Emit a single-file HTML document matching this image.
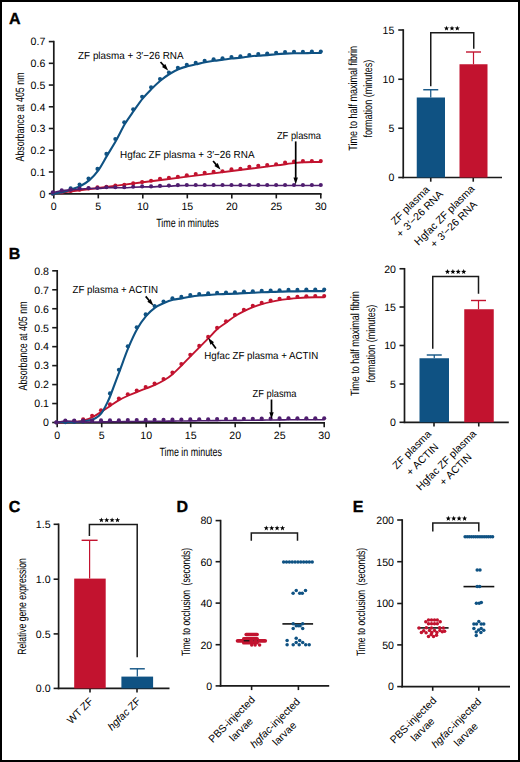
<!DOCTYPE html>
<html><head><meta charset="utf-8"><style>
html,body{margin:0;padding:0;background:#fff;overflow:hidden;width:520px;height:762px;}
svg{display:block;}
</style></head><body>
<svg width="520" height="762" viewBox="0 0 520 762" text-rendering="geometricPrecision" font-family='"Liberation Sans", sans-serif'>
<rect x="0" y="0" width="520" height="762" fill="#fff"/>
<rect x="1" y="1" width="518" height="760" fill="none" stroke="#000" stroke-width="2"/>
<text x="8.9" y="23.9" font-size="16" text-anchor="start" font-weight="bold" fill="#000" stroke="#000" stroke-width="0.35">A</text>
<text x="8.7" y="259.0" font-size="16" text-anchor="start" font-weight="bold" fill="#000" stroke="#000" stroke-width="0.35">B</text>
<text x="8.8" y="511.7" font-size="16" text-anchor="start" font-weight="bold" fill="#000" stroke="#000" stroke-width="0.35">C</text>
<text x="176.6" y="511.6" font-size="16" text-anchor="start" font-weight="bold" fill="#000" stroke="#000" stroke-width="0.35">D</text>
<text x="352.7" y="512.2" font-size="16" text-anchor="start" font-weight="bold" fill="#000" stroke="#000" stroke-width="0.35">E</text>
<line x1="53.8" y1="40.800000000000004" x2="53.8" y2="194.70000000000002" stroke="#1a1a1a" stroke-width="1.7" stroke-linecap="butt"/>
<line x1="53.0" y1="193.9" x2="321.6" y2="193.9" stroke="#1a1a1a" stroke-width="1.7" stroke-linecap="butt"/>
<line x1="48.8" y1="193.7" x2="53.8" y2="193.7" stroke="#1a1a1a" stroke-width="1.6" stroke-linecap="butt"/>
<text x="45.3" y="197.5" font-size="10.6" text-anchor="end" font-weight="normal" fill="#000" textLength="5.9" lengthAdjust="spacingAndGlyphs">0</text>
<line x1="48.8" y1="171.96999999999997" x2="53.8" y2="171.96999999999997" stroke="#1a1a1a" stroke-width="1.6" stroke-linecap="butt"/>
<text x="45.3" y="175.76999999999998" font-size="10.6" text-anchor="end" font-weight="normal" fill="#000" textLength="14.74" lengthAdjust="spacingAndGlyphs">0.1</text>
<line x1="48.8" y1="150.23999999999998" x2="53.8" y2="150.23999999999998" stroke="#1a1a1a" stroke-width="1.6" stroke-linecap="butt"/>
<text x="45.3" y="154.04" font-size="10.6" text-anchor="end" font-weight="normal" fill="#000" textLength="14.74" lengthAdjust="spacingAndGlyphs">0.2</text>
<line x1="48.8" y1="128.51" x2="53.8" y2="128.51" stroke="#1a1a1a" stroke-width="1.6" stroke-linecap="butt"/>
<text x="45.3" y="132.31" font-size="10.6" text-anchor="end" font-weight="normal" fill="#000" textLength="14.74" lengthAdjust="spacingAndGlyphs">0.3</text>
<line x1="48.8" y1="106.77999999999997" x2="53.8" y2="106.77999999999997" stroke="#1a1a1a" stroke-width="1.6" stroke-linecap="butt"/>
<text x="45.3" y="110.57999999999997" font-size="10.6" text-anchor="end" font-weight="normal" fill="#000" textLength="14.74" lengthAdjust="spacingAndGlyphs">0.4</text>
<line x1="48.8" y1="85.04999999999998" x2="53.8" y2="85.04999999999998" stroke="#1a1a1a" stroke-width="1.6" stroke-linecap="butt"/>
<text x="45.3" y="88.84999999999998" font-size="10.6" text-anchor="end" font-weight="normal" fill="#000" textLength="14.74" lengthAdjust="spacingAndGlyphs">0.5</text>
<line x1="48.8" y1="63.31999999999999" x2="53.8" y2="63.31999999999999" stroke="#1a1a1a" stroke-width="1.6" stroke-linecap="butt"/>
<text x="45.3" y="67.11999999999999" font-size="10.6" text-anchor="end" font-weight="normal" fill="#000" textLength="14.74" lengthAdjust="spacingAndGlyphs">0.6</text>
<line x1="48.8" y1="41.59" x2="53.8" y2="41.59" stroke="#1a1a1a" stroke-width="1.6" stroke-linecap="butt"/>
<text x="45.3" y="45.39" font-size="10.6" text-anchor="end" font-weight="normal" fill="#000" textLength="14.74" lengthAdjust="spacingAndGlyphs">0.7</text>
<line x1="53.8" y1="193.9" x2="53.8" y2="198.4" stroke="#1a1a1a" stroke-width="1.6" stroke-linecap="butt"/>
<text x="53.8" y="209.9" font-size="10.6" text-anchor="middle" font-weight="normal" fill="#000" textLength="5.9" lengthAdjust="spacingAndGlyphs">0</text>
<line x1="98.3" y1="193.9" x2="98.3" y2="198.4" stroke="#1a1a1a" stroke-width="1.6" stroke-linecap="butt"/>
<text x="98.3" y="209.9" font-size="10.6" text-anchor="middle" font-weight="normal" fill="#000" textLength="5.9" lengthAdjust="spacingAndGlyphs">5</text>
<line x1="142.8" y1="193.9" x2="142.8" y2="198.4" stroke="#1a1a1a" stroke-width="1.6" stroke-linecap="butt"/>
<text x="142.8" y="209.9" font-size="10.6" text-anchor="middle" font-weight="normal" fill="#000" textLength="11.79" lengthAdjust="spacingAndGlyphs">10</text>
<line x1="187.3" y1="193.9" x2="187.3" y2="198.4" stroke="#1a1a1a" stroke-width="1.6" stroke-linecap="butt"/>
<text x="187.3" y="209.9" font-size="10.6" text-anchor="middle" font-weight="normal" fill="#000" textLength="11.79" lengthAdjust="spacingAndGlyphs">15</text>
<line x1="231.8" y1="193.9" x2="231.8" y2="198.4" stroke="#1a1a1a" stroke-width="1.6" stroke-linecap="butt"/>
<text x="231.8" y="209.9" font-size="10.6" text-anchor="middle" font-weight="normal" fill="#000" textLength="11.79" lengthAdjust="spacingAndGlyphs">20</text>
<line x1="276.3" y1="193.9" x2="276.3" y2="198.4" stroke="#1a1a1a" stroke-width="1.6" stroke-linecap="butt"/>
<text x="276.3" y="209.9" font-size="10.6" text-anchor="middle" font-weight="normal" fill="#000" textLength="11.79" lengthAdjust="spacingAndGlyphs">25</text>
<line x1="320.8" y1="193.9" x2="320.8" y2="198.4" stroke="#1a1a1a" stroke-width="1.6" stroke-linecap="butt"/>
<text x="320.8" y="209.9" font-size="10.6" text-anchor="middle" font-weight="normal" fill="#000" textLength="11.79" lengthAdjust="spacingAndGlyphs">30</text>
<text x="0" y="0" transform="translate(23.6,117) rotate(-90)" font-size="12.0" text-anchor="middle" font-weight="normal" fill="#000" textLength="89" lengthAdjust="spacingAndGlyphs">Absorbance at 405 nm</text>
<text x="187.5" y="226.6" font-size="12.0" text-anchor="middle" font-weight="normal" fill="#000" textLength="62.6" lengthAdjust="spacingAndGlyphs">Time in minutes</text>
<path d="M53.80,193.60 C61.22,192.66 83.47,189.83 98.30,187.95 C113.13,186.07 127.97,184.18 142.80,182.30 C157.63,180.42 172.47,178.53 187.30,176.65 C202.13,174.77 216.97,172.88 231.80,171.00 C246.63,169.12 265.62,166.70 276.30,165.35 C286.98,164.00 290.99,163.42 295.88,162.90 C300.77,162.38 302.70,162.39 305.67,162.25 C308.64,162.11 311.16,162.09 313.68,162.05 C316.20,162.01 319.61,162.01 320.80,162.00" fill="none" stroke="#c2132f" stroke-width="1.9" stroke-linecap="round"/>
<circle cx="52.80" cy="193.70" r="2.05" fill="#c2132f"/>
<circle cx="61.73" cy="192.40" r="2.05" fill="#c2132f"/>
<circle cx="70.67" cy="191.00" r="2.05" fill="#c2132f"/>
<circle cx="79.60" cy="189.70" r="2.05" fill="#c2132f"/>
<circle cx="88.53" cy="188.50" r="2.05" fill="#c2132f"/>
<circle cx="97.47" cy="187.20" r="2.05" fill="#c2132f"/>
<circle cx="106.40" cy="186.70" r="2.05" fill="#c2132f"/>
<circle cx="115.33" cy="185.60" r="2.05" fill="#c2132f"/>
<circle cx="124.27" cy="184.80" r="2.05" fill="#c2132f"/>
<circle cx="133.20" cy="183.40" r="2.05" fill="#c2132f"/>
<circle cx="142.13" cy="182.10" r="2.05" fill="#c2132f"/>
<circle cx="151.07" cy="180.70" r="2.05" fill="#c2132f"/>
<circle cx="160.00" cy="178.80" r="2.05" fill="#c2132f"/>
<circle cx="168.93" cy="177.80" r="2.05" fill="#c2132f"/>
<circle cx="177.87" cy="176.70" r="2.05" fill="#c2132f"/>
<circle cx="186.80" cy="175.20" r="2.05" fill="#c2132f"/>
<circle cx="195.73" cy="174.00" r="2.05" fill="#c2132f"/>
<circle cx="204.67" cy="172.70" r="2.05" fill="#c2132f"/>
<circle cx="213.60" cy="171.90" r="2.05" fill="#c2132f"/>
<circle cx="222.53" cy="171.30" r="2.05" fill="#c2132f"/>
<circle cx="231.47" cy="169.40" r="2.05" fill="#c2132f"/>
<circle cx="240.40" cy="168.70" r="2.05" fill="#c2132f"/>
<circle cx="249.33" cy="166.70" r="2.05" fill="#c2132f"/>
<circle cx="258.27" cy="165.70" r="2.05" fill="#c2132f"/>
<circle cx="267.20" cy="165.10" r="2.05" fill="#c2132f"/>
<circle cx="276.13" cy="164.20" r="2.05" fill="#c2132f"/>
<circle cx="285.07" cy="162.60" r="2.05" fill="#c2132f"/>
<circle cx="294.00" cy="161.50" r="2.05" fill="#c2132f"/>
<circle cx="302.93" cy="161.10" r="2.05" fill="#c2132f"/>
<circle cx="311.87" cy="161.10" r="2.05" fill="#c2132f"/>
<circle cx="320.80" cy="161.10" r="2.05" fill="#c2132f"/>
<path d="M53.80,193.60 C55.28,193.35 59.73,192.82 62.70,192.10 C65.67,191.38 68.63,190.32 71.60,189.30 C74.57,188.28 77.53,187.53 80.50,186.00 C83.47,184.47 86.43,182.70 89.40,180.10 C92.37,177.50 95.33,174.52 98.30,170.40 C101.27,166.28 104.23,160.38 107.20,155.40 C110.17,150.42 113.13,145.77 116.10,140.50 C119.07,135.23 122.03,128.77 125.00,123.80 C127.97,118.83 130.93,114.95 133.90,110.70 C136.87,106.45 139.83,101.95 142.80,98.30 C145.77,94.65 148.73,91.77 151.70,88.80 C154.67,85.83 157.63,82.97 160.60,80.50 C163.57,78.03 166.53,75.88 169.50,74.00 C172.47,72.12 175.43,70.48 178.40,69.20 C181.37,67.92 184.33,67.12 187.30,66.30 C190.27,65.48 193.23,64.97 196.20,64.30 C199.17,63.63 202.13,62.88 205.10,62.30 C208.07,61.72 211.03,61.23 214.00,60.80 C216.97,60.37 219.93,60.08 222.90,59.70 C225.87,59.32 228.83,58.83 231.80,58.50 C234.77,58.17 237.73,58.03 240.70,57.70 C243.67,57.37 246.63,56.85 249.60,56.50 C252.57,56.15 255.53,55.83 258.50,55.60 C261.47,55.37 264.43,55.33 267.40,55.10 C270.37,54.87 273.33,54.45 276.30,54.20 C279.27,53.95 282.23,53.75 285.20,53.60 C288.17,53.45 291.13,53.35 294.10,53.30 C297.07,53.25 300.03,53.35 303.00,53.30 C305.97,53.25 308.93,53.05 311.90,53.00 C314.87,52.95 319.32,53.00 320.80,53.00" fill="none" stroke="#0f5283" stroke-width="2.1" stroke-linecap="round"/>
<circle cx="52.80" cy="193.70" r="2.05" fill="#0f5283"/>
<circle cx="61.73" cy="191.60" r="2.05" fill="#0f5283"/>
<circle cx="70.67" cy="188.30" r="2.05" fill="#0f5283"/>
<circle cx="79.60" cy="184.50" r="2.05" fill="#0f5283"/>
<circle cx="88.53" cy="178.60" r="2.05" fill="#0f5283"/>
<circle cx="97.47" cy="168.90" r="2.05" fill="#0f5283"/>
<circle cx="106.40" cy="153.90" r="2.05" fill="#0f5283"/>
<circle cx="115.33" cy="139.00" r="2.05" fill="#0f5283"/>
<circle cx="124.27" cy="122.30" r="2.05" fill="#0f5283"/>
<circle cx="133.20" cy="109.20" r="2.05" fill="#0f5283"/>
<circle cx="142.13" cy="96.80" r="2.05" fill="#0f5283"/>
<circle cx="151.07" cy="87.30" r="2.05" fill="#0f5283"/>
<circle cx="160.00" cy="79.00" r="2.05" fill="#0f5283"/>
<circle cx="168.93" cy="72.50" r="2.05" fill="#0f5283"/>
<circle cx="177.87" cy="67.70" r="2.05" fill="#0f5283"/>
<circle cx="186.80" cy="64.80" r="2.05" fill="#0f5283"/>
<circle cx="195.73" cy="62.80" r="2.05" fill="#0f5283"/>
<circle cx="204.67" cy="60.80" r="2.05" fill="#0f5283"/>
<circle cx="213.60" cy="59.30" r="2.05" fill="#0f5283"/>
<circle cx="222.53" cy="58.20" r="2.05" fill="#0f5283"/>
<circle cx="231.47" cy="57.00" r="2.05" fill="#0f5283"/>
<circle cx="240.40" cy="56.20" r="2.05" fill="#0f5283"/>
<circle cx="249.33" cy="55.00" r="2.05" fill="#0f5283"/>
<circle cx="258.27" cy="54.10" r="2.05" fill="#0f5283"/>
<circle cx="267.20" cy="53.60" r="2.05" fill="#0f5283"/>
<circle cx="276.13" cy="52.70" r="2.05" fill="#0f5283"/>
<circle cx="285.07" cy="52.10" r="2.05" fill="#0f5283"/>
<circle cx="294.00" cy="51.80" r="2.05" fill="#0f5283"/>
<circle cx="302.93" cy="51.80" r="2.05" fill="#0f5283"/>
<circle cx="311.87" cy="51.50" r="2.05" fill="#0f5283"/>
<circle cx="320.80" cy="51.50" r="2.05" fill="#0f5283"/>
<path d="M53.80,192.30 C55.28,192.01 59.73,190.96 62.70,190.57 C65.67,190.17 68.63,190.19 71.60,189.93 C74.57,189.67 77.53,189.24 80.50,189.00 C83.47,188.76 86.43,188.58 89.40,188.50 C92.37,188.42 95.33,188.63 98.30,188.50 C101.27,188.37 104.23,187.83 107.20,187.70 C110.17,187.57 113.13,187.70 116.10,187.70 C119.07,187.70 122.03,187.78 125.00,187.70 C127.97,187.62 130.93,187.33 133.90,187.20 C136.87,187.07 139.83,186.95 142.80,186.90 C145.77,186.85 148.73,186.98 151.70,186.90 C154.67,186.82 157.63,186.53 160.60,186.40 C163.57,186.27 166.53,186.23 169.50,186.10 C172.47,185.97 175.43,185.70 178.40,185.60 C181.37,185.50 184.33,185.52 187.30,185.50 C190.27,185.48 193.23,185.50 196.20,185.50 C199.17,185.50 202.13,185.50 205.10,185.50 C208.07,185.50 211.03,185.50 214.00,185.50 C216.97,185.50 219.93,185.50 222.90,185.50 C225.87,185.50 228.83,185.50 231.80,185.50 C234.77,185.50 237.73,185.50 240.70,185.50 C243.67,185.50 246.63,185.50 249.60,185.50 C252.57,185.50 255.53,185.50 258.50,185.50 C261.47,185.50 264.43,185.50 267.40,185.50 C270.37,185.50 273.33,185.50 276.30,185.50 C279.27,185.50 282.23,185.50 285.20,185.50 C288.17,185.50 291.13,185.50 294.10,185.50 C297.07,185.50 300.03,185.50 303.00,185.50 C305.97,185.50 308.93,185.50 311.90,185.50 C314.87,185.50 319.32,185.50 320.80,185.50" fill="none" stroke="#4f1d6f" stroke-width="1.6" stroke-linecap="round"/>
<circle cx="52.80" cy="192.30" r="2.05" fill="#4f1d6f"/>
<circle cx="61.73" cy="190.40" r="2.05" fill="#4f1d6f"/>
<circle cx="70.67" cy="189.60" r="2.05" fill="#4f1d6f"/>
<circle cx="79.60" cy="188.50" r="2.05" fill="#4f1d6f"/>
<circle cx="88.53" cy="188.00" r="2.05" fill="#4f1d6f"/>
<circle cx="97.47" cy="188.00" r="2.05" fill="#4f1d6f"/>
<circle cx="106.40" cy="187.20" r="2.05" fill="#4f1d6f"/>
<circle cx="115.33" cy="187.20" r="2.05" fill="#4f1d6f"/>
<circle cx="124.27" cy="187.20" r="2.05" fill="#4f1d6f"/>
<circle cx="133.20" cy="186.70" r="2.05" fill="#4f1d6f"/>
<circle cx="142.13" cy="186.40" r="2.05" fill="#4f1d6f"/>
<circle cx="151.07" cy="186.40" r="2.05" fill="#4f1d6f"/>
<circle cx="160.00" cy="185.90" r="2.05" fill="#4f1d6f"/>
<circle cx="168.93" cy="185.60" r="2.05" fill="#4f1d6f"/>
<circle cx="177.87" cy="185.10" r="2.05" fill="#4f1d6f"/>
<circle cx="186.80" cy="185.00" r="2.05" fill="#4f1d6f"/>
<circle cx="195.73" cy="185.00" r="2.05" fill="#4f1d6f"/>
<circle cx="204.67" cy="185.00" r="2.05" fill="#4f1d6f"/>
<circle cx="213.60" cy="185.00" r="2.05" fill="#4f1d6f"/>
<circle cx="222.53" cy="185.00" r="2.05" fill="#4f1d6f"/>
<circle cx="231.47" cy="185.00" r="2.05" fill="#4f1d6f"/>
<circle cx="240.40" cy="185.00" r="2.05" fill="#4f1d6f"/>
<circle cx="249.33" cy="185.00" r="2.05" fill="#4f1d6f"/>
<circle cx="258.27" cy="185.00" r="2.05" fill="#4f1d6f"/>
<circle cx="267.20" cy="185.00" r="2.05" fill="#4f1d6f"/>
<circle cx="276.13" cy="185.00" r="2.05" fill="#4f1d6f"/>
<circle cx="285.07" cy="185.00" r="2.05" fill="#4f1d6f"/>
<circle cx="294.00" cy="185.00" r="2.05" fill="#4f1d6f"/>
<circle cx="302.93" cy="185.00" r="2.05" fill="#4f1d6f"/>
<circle cx="311.87" cy="185.00" r="2.05" fill="#4f1d6f"/>
<circle cx="320.80" cy="185.00" r="2.05" fill="#4f1d6f"/>
<line x1="57.2" y1="270.0" x2="57.2" y2="423.6" stroke="#1a1a1a" stroke-width="1.7" stroke-linecap="butt"/>
<line x1="56.400000000000006" y1="422.8" x2="325.0" y2="422.8" stroke="#1a1a1a" stroke-width="1.7" stroke-linecap="butt"/>
<line x1="52.2" y1="422.5" x2="57.2" y2="422.5" stroke="#1a1a1a" stroke-width="1.6" stroke-linecap="butt"/>
<text x="49.0" y="426.3" font-size="10.6" text-anchor="end" font-weight="normal" fill="#000" textLength="5.9" lengthAdjust="spacingAndGlyphs">0</text>
<line x1="52.2" y1="403.54" x2="57.2" y2="403.54" stroke="#1a1a1a" stroke-width="1.6" stroke-linecap="butt"/>
<text x="49.0" y="407.34000000000003" font-size="10.6" text-anchor="end" font-weight="normal" fill="#000" textLength="14.74" lengthAdjust="spacingAndGlyphs">0.1</text>
<line x1="52.2" y1="384.58" x2="57.2" y2="384.58" stroke="#1a1a1a" stroke-width="1.6" stroke-linecap="butt"/>
<text x="49.0" y="388.38" font-size="10.6" text-anchor="end" font-weight="normal" fill="#000" textLength="14.74" lengthAdjust="spacingAndGlyphs">0.2</text>
<line x1="52.2" y1="365.62" x2="57.2" y2="365.62" stroke="#1a1a1a" stroke-width="1.6" stroke-linecap="butt"/>
<text x="49.0" y="369.42" font-size="10.6" text-anchor="end" font-weight="normal" fill="#000" textLength="14.74" lengthAdjust="spacingAndGlyphs">0.3</text>
<line x1="52.2" y1="346.65999999999997" x2="57.2" y2="346.65999999999997" stroke="#1a1a1a" stroke-width="1.6" stroke-linecap="butt"/>
<text x="49.0" y="350.46" font-size="10.6" text-anchor="end" font-weight="normal" fill="#000" textLength="14.74" lengthAdjust="spacingAndGlyphs">0.4</text>
<line x1="52.2" y1="327.7" x2="57.2" y2="327.7" stroke="#1a1a1a" stroke-width="1.6" stroke-linecap="butt"/>
<text x="49.0" y="331.5" font-size="10.6" text-anchor="end" font-weight="normal" fill="#000" textLength="14.74" lengthAdjust="spacingAndGlyphs">0.5</text>
<line x1="52.2" y1="308.74" x2="57.2" y2="308.74" stroke="#1a1a1a" stroke-width="1.6" stroke-linecap="butt"/>
<text x="49.0" y="312.54" font-size="10.6" text-anchor="end" font-weight="normal" fill="#000" textLength="14.74" lengthAdjust="spacingAndGlyphs">0.6</text>
<line x1="52.2" y1="289.78" x2="57.2" y2="289.78" stroke="#1a1a1a" stroke-width="1.6" stroke-linecap="butt"/>
<text x="49.0" y="293.58" font-size="10.6" text-anchor="end" font-weight="normal" fill="#000" textLength="14.74" lengthAdjust="spacingAndGlyphs">0.7</text>
<line x1="52.2" y1="270.82" x2="57.2" y2="270.82" stroke="#1a1a1a" stroke-width="1.6" stroke-linecap="butt"/>
<text x="49.0" y="274.62" font-size="10.6" text-anchor="end" font-weight="normal" fill="#000" textLength="14.74" lengthAdjust="spacingAndGlyphs">0.8</text>
<line x1="57.2" y1="422.8" x2="57.2" y2="427.3" stroke="#1a1a1a" stroke-width="1.6" stroke-linecap="butt"/>
<text x="57.2" y="439.2" font-size="10.6" text-anchor="middle" font-weight="normal" fill="#000" textLength="5.9" lengthAdjust="spacingAndGlyphs">0</text>
<line x1="101.7" y1="422.8" x2="101.7" y2="427.3" stroke="#1a1a1a" stroke-width="1.6" stroke-linecap="butt"/>
<text x="101.7" y="439.2" font-size="10.6" text-anchor="middle" font-weight="normal" fill="#000" textLength="5.9" lengthAdjust="spacingAndGlyphs">5</text>
<line x1="146.2" y1="422.8" x2="146.2" y2="427.3" stroke="#1a1a1a" stroke-width="1.6" stroke-linecap="butt"/>
<text x="146.2" y="439.2" font-size="10.6" text-anchor="middle" font-weight="normal" fill="#000" textLength="11.79" lengthAdjust="spacingAndGlyphs">10</text>
<line x1="190.7" y1="422.8" x2="190.7" y2="427.3" stroke="#1a1a1a" stroke-width="1.6" stroke-linecap="butt"/>
<text x="190.7" y="439.2" font-size="10.6" text-anchor="middle" font-weight="normal" fill="#000" textLength="11.79" lengthAdjust="spacingAndGlyphs">15</text>
<line x1="235.2" y1="422.8" x2="235.2" y2="427.3" stroke="#1a1a1a" stroke-width="1.6" stroke-linecap="butt"/>
<text x="235.2" y="439.2" font-size="10.6" text-anchor="middle" font-weight="normal" fill="#000" textLength="11.79" lengthAdjust="spacingAndGlyphs">20</text>
<line x1="279.7" y1="422.8" x2="279.7" y2="427.3" stroke="#1a1a1a" stroke-width="1.6" stroke-linecap="butt"/>
<text x="279.7" y="439.2" font-size="10.6" text-anchor="middle" font-weight="normal" fill="#000" textLength="11.79" lengthAdjust="spacingAndGlyphs">25</text>
<line x1="324.2" y1="422.8" x2="324.2" y2="427.3" stroke="#1a1a1a" stroke-width="1.6" stroke-linecap="butt"/>
<text x="324.2" y="439.2" font-size="10.6" text-anchor="middle" font-weight="normal" fill="#000" textLength="11.79" lengthAdjust="spacingAndGlyphs">30</text>
<text x="0" y="0" transform="translate(27.0,346) rotate(-90)" font-size="12.0" text-anchor="middle" font-weight="normal" fill="#000" textLength="89" lengthAdjust="spacingAndGlyphs">Absorbance at 405 nm</text>
<text x="190.7" y="456.2" font-size="12.0" text-anchor="middle" font-weight="normal" fill="#000" textLength="62.6" lengthAdjust="spacingAndGlyphs">Time in minutes</text>
<path d="M57.20,422.50 C58.68,422.49 63.13,422.54 66.10,422.43 C69.07,422.33 72.03,422.19 75.00,421.87 C77.97,421.54 80.93,421.31 83.90,420.50 C86.87,419.69 89.83,418.48 92.80,417.00 C95.77,415.52 98.73,413.48 101.70,411.60 C104.67,409.72 107.63,407.65 110.60,405.70 C113.57,403.75 116.53,401.60 119.50,399.90 C122.47,398.20 125.43,396.83 128.40,395.50 C131.37,394.17 134.33,393.08 137.30,391.90 C140.27,390.72 143.23,389.57 146.20,388.40 C149.17,387.23 152.13,386.25 155.10,384.90 C158.07,383.55 161.03,382.13 164.00,380.30 C166.97,378.47 169.93,376.40 172.90,373.90 C175.87,371.40 178.83,368.27 181.80,365.30 C184.77,362.33 187.73,359.12 190.70,356.10 C193.67,353.08 196.63,350.18 199.60,347.20 C202.57,344.22 205.53,341.23 208.50,338.20 C211.47,335.17 214.43,331.60 217.40,329.00 C220.37,326.40 223.33,324.77 226.30,322.60 C229.27,320.43 232.23,317.92 235.20,316.00 C238.17,314.08 241.13,312.58 244.10,311.10 C247.07,309.62 250.03,308.25 253.00,307.10 C255.97,305.95 258.93,305.07 261.90,304.20 C264.87,303.33 267.83,302.58 270.80,301.90 C273.77,301.22 276.73,300.58 279.70,300.10 C282.67,299.62 285.63,299.33 288.60,299.00 C291.57,298.67 294.53,298.35 297.50,298.10 C300.47,297.85 303.43,297.63 306.40,297.50 C309.37,297.37 312.33,297.33 315.30,297.30 C318.27,297.27 322.72,297.30 324.20,297.30" fill="none" stroke="#c2132f" stroke-width="1.9" stroke-linecap="round"/>
<circle cx="56.40" cy="422.50" r="2.05" fill="#c2132f"/>
<circle cx="65.33" cy="422.00" r="2.05" fill="#c2132f"/>
<circle cx="74.25" cy="421.00" r="2.05" fill="#c2132f"/>
<circle cx="83.18" cy="419.20" r="2.05" fill="#c2132f"/>
<circle cx="92.11" cy="415.70" r="2.05" fill="#c2132f"/>
<circle cx="101.03" cy="410.30" r="2.05" fill="#c2132f"/>
<circle cx="109.96" cy="404.40" r="2.05" fill="#c2132f"/>
<circle cx="118.89" cy="398.60" r="2.05" fill="#c2132f"/>
<circle cx="127.81" cy="394.20" r="2.05" fill="#c2132f"/>
<circle cx="136.74" cy="390.60" r="2.05" fill="#c2132f"/>
<circle cx="145.67" cy="387.10" r="2.05" fill="#c2132f"/>
<circle cx="154.59" cy="383.60" r="2.05" fill="#c2132f"/>
<circle cx="163.52" cy="379.00" r="2.05" fill="#c2132f"/>
<circle cx="172.45" cy="372.60" r="2.05" fill="#c2132f"/>
<circle cx="181.37" cy="364.00" r="2.05" fill="#c2132f"/>
<circle cx="190.30" cy="354.80" r="2.05" fill="#c2132f"/>
<circle cx="199.23" cy="345.90" r="2.05" fill="#c2132f"/>
<circle cx="208.15" cy="336.90" r="2.05" fill="#c2132f"/>
<circle cx="217.08" cy="327.70" r="2.05" fill="#c2132f"/>
<circle cx="226.01" cy="321.30" r="2.05" fill="#c2132f"/>
<circle cx="234.93" cy="314.70" r="2.05" fill="#c2132f"/>
<circle cx="243.86" cy="309.80" r="2.05" fill="#c2132f"/>
<circle cx="252.79" cy="305.80" r="2.05" fill="#c2132f"/>
<circle cx="261.71" cy="302.90" r="2.05" fill="#c2132f"/>
<circle cx="270.64" cy="300.60" r="2.05" fill="#c2132f"/>
<circle cx="279.57" cy="298.80" r="2.05" fill="#c2132f"/>
<circle cx="288.49" cy="297.70" r="2.05" fill="#c2132f"/>
<circle cx="297.42" cy="296.80" r="2.05" fill="#c2132f"/>
<circle cx="306.35" cy="296.20" r="2.05" fill="#c2132f"/>
<circle cx="315.27" cy="296.00" r="2.05" fill="#c2132f"/>
<circle cx="324.20" cy="296.00" r="2.05" fill="#c2132f"/>
<path d="M57.20,422.30 C58.68,422.28 63.13,422.25 66.10,422.20 C69.07,422.15 71.91,422.15 75.00,422.00 C78.09,421.85 81.56,421.77 84.61,421.30 C87.67,420.83 90.93,420.12 93.33,419.20 C95.74,418.28 97.40,417.23 99.03,415.80 C100.66,414.37 101.69,412.92 103.12,410.60 C104.56,408.28 106.42,404.50 107.66,401.90 C108.91,399.30 108.63,400.10 110.60,395.00 C112.57,389.90 116.53,379.18 119.50,371.30 C122.47,363.42 125.43,354.78 128.40,347.70 C131.37,340.62 134.33,334.10 137.30,328.80 C140.27,323.50 143.23,319.43 146.20,315.90 C149.17,312.37 152.13,309.75 155.10,307.60 C158.07,305.45 161.03,304.30 164.00,303.00 C166.97,301.70 169.93,300.57 172.90,299.80 C175.87,299.03 178.83,298.93 181.80,298.40 C184.77,297.87 187.73,297.08 190.70,296.60 C193.67,296.12 196.63,295.78 199.60,295.50 C202.57,295.22 205.53,295.10 208.50,294.90 C211.47,294.70 214.43,294.45 217.40,294.30 C220.37,294.15 223.33,294.10 226.30,294.00 C229.27,293.90 232.23,293.85 235.20,293.70 C238.17,293.55 241.13,293.25 244.10,293.10 C247.07,292.95 250.03,292.93 253.00,292.80 C255.97,292.67 258.93,292.43 261.90,292.30 C264.87,292.17 267.83,292.10 270.80,292.00 C273.77,291.90 276.73,291.80 279.70,291.70 C282.67,291.60 285.63,291.45 288.60,291.40 C291.57,291.35 294.53,291.45 297.50,291.40 C300.47,291.35 303.43,291.15 306.40,291.10 C309.37,291.05 312.33,291.10 315.30,291.10 C318.27,291.10 322.72,291.10 324.20,291.10" fill="none" stroke="#0f5283" stroke-width="2.1" stroke-linecap="round"/>
<circle cx="56.40" cy="422.50" r="2.05" fill="#0f5283"/>
<circle cx="65.33" cy="422.30" r="2.05" fill="#0f5283"/>
<circle cx="74.25" cy="422.00" r="2.05" fill="#0f5283"/>
<circle cx="83.18" cy="421.60" r="2.05" fill="#0f5283"/>
<circle cx="92.11" cy="420.80" r="2.05" fill="#0f5283"/>
<circle cx="109.96" cy="393.40" r="2.05" fill="#0f5283"/>
<circle cx="118.89" cy="369.80" r="2.05" fill="#0f5283"/>
<circle cx="127.81" cy="346.20" r="2.05" fill="#0f5283"/>
<circle cx="136.74" cy="327.30" r="2.05" fill="#0f5283"/>
<circle cx="145.67" cy="314.40" r="2.05" fill="#0f5283"/>
<circle cx="154.59" cy="306.10" r="2.05" fill="#0f5283"/>
<circle cx="163.52" cy="301.50" r="2.05" fill="#0f5283"/>
<circle cx="172.45" cy="298.30" r="2.05" fill="#0f5283"/>
<circle cx="181.37" cy="296.90" r="2.05" fill="#0f5283"/>
<circle cx="190.30" cy="295.10" r="2.05" fill="#0f5283"/>
<circle cx="199.23" cy="294.00" r="2.05" fill="#0f5283"/>
<circle cx="208.15" cy="293.40" r="2.05" fill="#0f5283"/>
<circle cx="217.08" cy="292.80" r="2.05" fill="#0f5283"/>
<circle cx="226.01" cy="292.50" r="2.05" fill="#0f5283"/>
<circle cx="234.93" cy="292.20" r="2.05" fill="#0f5283"/>
<circle cx="243.86" cy="291.60" r="2.05" fill="#0f5283"/>
<circle cx="252.79" cy="291.30" r="2.05" fill="#0f5283"/>
<circle cx="261.71" cy="290.80" r="2.05" fill="#0f5283"/>
<circle cx="270.64" cy="290.50" r="2.05" fill="#0f5283"/>
<circle cx="279.57" cy="290.20" r="2.05" fill="#0f5283"/>
<circle cx="288.49" cy="289.90" r="2.05" fill="#0f5283"/>
<circle cx="297.42" cy="289.90" r="2.05" fill="#0f5283"/>
<circle cx="306.35" cy="289.60" r="2.05" fill="#0f5283"/>
<circle cx="315.27" cy="289.60" r="2.05" fill="#0f5283"/>
<circle cx="324.20" cy="289.60" r="2.05" fill="#0f5283"/>
<path d="M57.20,422.30 C58.68,422.08 63.13,421.12 66.10,421.00 C69.07,420.88 72.03,421.42 75.00,421.60 C77.97,421.78 80.93,422.03 83.90,422.10 C86.87,422.17 89.83,422.03 92.80,422.00 C95.77,421.97 98.73,421.93 101.70,421.90 C104.67,421.87 107.63,421.83 110.60,421.80 C113.57,421.77 116.53,421.73 119.50,421.70 C122.47,421.67 125.43,421.63 128.40,421.60 C131.37,421.57 134.33,421.53 137.30,421.50 C140.27,421.47 143.23,421.43 146.20,421.40 C149.17,421.37 152.13,421.33 155.10,421.30 C158.07,421.27 161.03,421.23 164.00,421.20 C166.97,421.17 169.93,421.13 172.90,421.10 C175.87,421.07 178.83,421.03 181.80,421.00 C184.77,420.97 187.73,420.93 190.70,420.90 C193.67,420.87 196.63,420.83 199.60,420.80 C202.57,420.77 205.53,420.73 208.50,420.70 C211.47,420.67 214.43,420.63 217.40,420.60 C220.37,420.57 223.33,420.53 226.30,420.50 C229.27,420.47 232.23,420.43 235.20,420.40 C238.17,420.37 241.13,420.33 244.10,420.30 C247.07,420.27 250.03,420.23 253.00,420.20 C255.97,420.17 258.93,420.13 261.90,420.10 C264.87,420.07 267.83,420.03 270.80,420.00 C273.77,419.97 276.73,419.93 279.70,419.90 C282.67,419.87 285.63,419.82 288.60,419.80 C291.57,419.78 294.53,419.80 297.50,419.80 C300.47,419.80 303.43,419.80 306.40,419.80 C309.37,419.80 312.33,419.80 315.30,419.80 C318.27,419.80 322.72,419.80 324.20,419.80" fill="none" stroke="#4f1d6f" stroke-width="1.6" stroke-linecap="round"/>
<circle cx="56.40" cy="422.30" r="2.05" fill="#4f1d6f"/>
<circle cx="65.33" cy="420.50" r="2.05" fill="#4f1d6f"/>
<circle cx="74.25" cy="420.60" r="2.05" fill="#4f1d6f"/>
<circle cx="83.18" cy="420.60" r="2.05" fill="#4f1d6f"/>
<circle cx="92.11" cy="420.50" r="2.05" fill="#4f1d6f"/>
<circle cx="101.03" cy="420.40" r="2.05" fill="#4f1d6f"/>
<circle cx="109.96" cy="420.30" r="2.05" fill="#4f1d6f"/>
<circle cx="118.89" cy="420.20" r="2.05" fill="#4f1d6f"/>
<circle cx="127.81" cy="420.10" r="2.05" fill="#4f1d6f"/>
<circle cx="136.74" cy="420.00" r="2.05" fill="#4f1d6f"/>
<circle cx="145.67" cy="419.90" r="2.05" fill="#4f1d6f"/>
<circle cx="154.59" cy="419.80" r="2.05" fill="#4f1d6f"/>
<circle cx="163.52" cy="419.70" r="2.05" fill="#4f1d6f"/>
<circle cx="172.45" cy="419.60" r="2.05" fill="#4f1d6f"/>
<circle cx="181.37" cy="419.50" r="2.05" fill="#4f1d6f"/>
<circle cx="190.30" cy="419.40" r="2.05" fill="#4f1d6f"/>
<circle cx="199.23" cy="419.30" r="2.05" fill="#4f1d6f"/>
<circle cx="208.15" cy="419.20" r="2.05" fill="#4f1d6f"/>
<circle cx="217.08" cy="419.10" r="2.05" fill="#4f1d6f"/>
<circle cx="226.01" cy="419.00" r="2.05" fill="#4f1d6f"/>
<circle cx="234.93" cy="418.90" r="2.05" fill="#4f1d6f"/>
<circle cx="243.86" cy="418.80" r="2.05" fill="#4f1d6f"/>
<circle cx="252.79" cy="418.70" r="2.05" fill="#4f1d6f"/>
<circle cx="261.71" cy="418.60" r="2.05" fill="#4f1d6f"/>
<circle cx="270.64" cy="418.50" r="2.05" fill="#4f1d6f"/>
<circle cx="279.57" cy="418.40" r="2.05" fill="#4f1d6f"/>
<circle cx="288.49" cy="418.30" r="2.05" fill="#4f1d6f"/>
<circle cx="297.42" cy="418.30" r="2.05" fill="#4f1d6f"/>
<circle cx="306.35" cy="418.30" r="2.05" fill="#4f1d6f"/>
<circle cx="315.27" cy="418.30" r="2.05" fill="#4f1d6f"/>
<circle cx="324.20" cy="418.30" r="2.05" fill="#4f1d6f"/>
<text x="78.1" y="59.2" font-size="10.3" text-anchor="start" font-weight="normal" fill="#000" textLength="105.4" lengthAdjust="spacingAndGlyphs">ZF plasma + 3′−26 RNA</text>
<line x1="160.5" y1="62" x2="163.988501156947" y2="65.93574489501708" stroke="#000" stroke-width="1.7" stroke-linecap="butt"/>
<polygon points="168.30,70.80 162.01,67.02 165.30,64.10" fill="#000"/>
<text x="120" y="157.5" font-size="10.3" text-anchor="start" font-weight="normal" fill="#000" textLength="134.5" lengthAdjust="spacingAndGlyphs">Hgfac ZF plasma + 3′−26 RNA</text>
<line x1="213.1" y1="161" x2="216.38376160920654" y2="164.85294695480235" stroke="#000" stroke-width="1.7" stroke-linecap="butt"/>
<polygon points="220.60,169.80 214.39,165.90 217.73,163.05" fill="#000"/>
<text x="276.9" y="138.7" font-size="10.3" text-anchor="start" font-weight="normal" fill="#000" textLength="44.1" lengthAdjust="spacingAndGlyphs">ZF plasma</text>
<line x1="295.7" y1="141.4" x2="295.7" y2="177.9" stroke="#000" stroke-width="1.7" stroke-linecap="butt"/>
<polygon points="295.70,184.40 293.50,177.40 297.90,177.40" fill="#000"/>
<text x="72.5" y="292.7" font-size="10.3" text-anchor="start" font-weight="normal" fill="#000" textLength="85.4" lengthAdjust="spacingAndGlyphs">ZF plasma + ACTIN</text>
<line x1="145.7" y1="296.4" x2="149.32302029715294" y2="300.71975496968236" stroke="#000" stroke-width="1.7" stroke-linecap="butt"/>
<polygon points="153.50,305.70 147.32,301.75 150.69,298.92" fill="#000"/>
<text x="204.3" y="359.4" font-size="10.3" text-anchor="start" font-weight="normal" fill="#000" textLength="114" lengthAdjust="spacingAndGlyphs">Hgfac ZF plasma + ACTIN</text>
<line x1="215.9" y1="348.5" x2="211.9289513025553" y2="343.05253576119765" stroke="#000" stroke-width="1.7" stroke-linecap="butt"/>
<polygon points="208.10,337.80 214.00,342.16 210.45,344.75" fill="#000"/>
<text x="252.5" y="396.5" font-size="10.3" text-anchor="start" font-weight="normal" fill="#000" textLength="44" lengthAdjust="spacingAndGlyphs">ZF plasma</text>
<line x1="271.5" y1="399.5" x2="271.5" y2="412.8" stroke="#000" stroke-width="1.7" stroke-linecap="butt"/>
<polygon points="271.50,419.30 269.30,412.30 273.70,412.30" fill="#000"/>
<line x1="403.25" y1="29.2" x2="403.25" y2="178.3" stroke="#1a1a1a" stroke-width="1.7" stroke-linecap="butt"/>
<line x1="402.45" y1="177.5" x2="502" y2="177.5" stroke="#1a1a1a" stroke-width="1.7" stroke-linecap="butt"/>
<line x1="398.25" y1="177.5" x2="403.25" y2="177.5" stroke="#1a1a1a" stroke-width="1.6" stroke-linecap="butt"/>
<text x="394.3" y="181.3" font-size="10.6" text-anchor="end" font-weight="normal" fill="#000" textLength="5.9" lengthAdjust="spacingAndGlyphs">0</text>
<line x1="398.25" y1="128.25" x2="403.25" y2="128.25" stroke="#1a1a1a" stroke-width="1.6" stroke-linecap="butt"/>
<text x="394.3" y="132.05" font-size="10.6" text-anchor="end" font-weight="normal" fill="#000" textLength="5.9" lengthAdjust="spacingAndGlyphs">5</text>
<line x1="398.25" y1="79.25" x2="403.25" y2="79.25" stroke="#1a1a1a" stroke-width="1.6" stroke-linecap="butt"/>
<text x="394.3" y="83.05" font-size="10.6" text-anchor="end" font-weight="normal" fill="#000" textLength="11.79" lengthAdjust="spacingAndGlyphs">10</text>
<line x1="398.25" y1="30" x2="403.25" y2="30" stroke="#1a1a1a" stroke-width="1.6" stroke-linecap="butt"/>
<text x="394.3" y="33.8" font-size="10.6" text-anchor="end" font-weight="normal" fill="#000" textLength="11.79" lengthAdjust="spacingAndGlyphs">15</text>
<line x1="430.75" y1="177.5" x2="430.75" y2="181.7" stroke="#1a1a1a" stroke-width="1.6" stroke-linecap="butt"/>
<line x1="473.25" y1="177.5" x2="473.25" y2="181.7" stroke="#1a1a1a" stroke-width="1.6" stroke-linecap="butt"/>
<rect x="416.75" y="97.5" width="28.25" height="80.00" fill="#0f5283"/>
<line x1="430.75" y1="97.5" x2="430.75" y2="89.75" stroke="#0f5283" stroke-width="1.2" stroke-linecap="butt"/>
<line x1="423.25" y1="89.75" x2="438.25" y2="89.75" stroke="#0f5283" stroke-width="1.4" stroke-linecap="butt"/>
<rect x="459.5" y="64.25" width="28.00" height="113.25" fill="#c2132f"/>
<line x1="473.5" y1="64.25" x2="473.5" y2="52" stroke="#c2132f" stroke-width="1.2" stroke-linecap="butt"/>
<line x1="466.0" y1="52" x2="481.0" y2="52" stroke="#c2132f" stroke-width="1.4" stroke-linecap="butt"/>
<polyline points="430.75,86.25 430.75,32.75 473.75,32.75 473.75,48.75" fill="none" stroke="#1a1a1a" stroke-width="1.5" stroke-linejoin="miter"/>
<polygon points="446.50,25.70 447.18,27.47 449.07,27.57 447.59,28.76 448.09,30.58 446.50,29.55 444.91,30.58 445.41,28.76 443.93,27.57 445.82,27.47" fill="#000"/>
<polygon points="452.00,25.70 452.68,27.47 454.57,27.57 453.09,28.76 453.59,30.58 452.00,29.55 450.41,30.58 450.91,28.76 449.43,27.57 451.32,27.47" fill="#000"/>
<polygon points="457.30,25.70 457.98,27.47 459.87,27.57 458.39,28.76 458.89,30.58 457.30,29.55 455.71,30.58 456.21,28.76 454.73,27.57 456.62,27.47" fill="#000"/>
<text x="0" y="0" transform="translate(357.3,98.4) rotate(-90)" font-size="12.0" text-anchor="middle" font-weight="normal" fill="#000" textLength="104.8" lengthAdjust="spacingAndGlyphs">Time to half maximal fibrin</text>
<text x="0" y="0" transform="translate(372.2,98.6) rotate(-90)" font-size="12.0" text-anchor="middle" font-weight="normal" fill="#000" textLength="77.8" lengthAdjust="spacingAndGlyphs">formation (minutes)</text>
<line x1="404.5" y1="267.95" x2="404.5" y2="423.1" stroke="#1a1a1a" stroke-width="1.7" stroke-linecap="butt"/>
<line x1="403.7" y1="422.3" x2="508.8" y2="422.3" stroke="#1a1a1a" stroke-width="1.7" stroke-linecap="butt"/>
<line x1="399.5" y1="422.3" x2="404.5" y2="422.3" stroke="#1a1a1a" stroke-width="1.6" stroke-linecap="butt"/>
<text x="396" y="426.1" font-size="10.6" text-anchor="end" font-weight="normal" fill="#000" textLength="5.9" lengthAdjust="spacingAndGlyphs">0</text>
<line x1="399.5" y1="384" x2="404.5" y2="384" stroke="#1a1a1a" stroke-width="1.6" stroke-linecap="butt"/>
<text x="396" y="387.8" font-size="10.6" text-anchor="end" font-weight="normal" fill="#000" textLength="5.9" lengthAdjust="spacingAndGlyphs">5</text>
<line x1="399.5" y1="345.5" x2="404.5" y2="345.5" stroke="#1a1a1a" stroke-width="1.6" stroke-linecap="butt"/>
<text x="396" y="349.3" font-size="10.6" text-anchor="end" font-weight="normal" fill="#000" textLength="11.79" lengthAdjust="spacingAndGlyphs">10</text>
<line x1="399.5" y1="307" x2="404.5" y2="307" stroke="#1a1a1a" stroke-width="1.6" stroke-linecap="butt"/>
<text x="396" y="310.8" font-size="10.6" text-anchor="end" font-weight="normal" fill="#000" textLength="11.79" lengthAdjust="spacingAndGlyphs">15</text>
<line x1="399.5" y1="268.75" x2="404.5" y2="268.75" stroke="#1a1a1a" stroke-width="1.6" stroke-linecap="butt"/>
<text x="396" y="272.55" font-size="10.6" text-anchor="end" font-weight="normal" fill="#000" textLength="11.79" lengthAdjust="spacingAndGlyphs">20</text>
<line x1="434" y1="422.3" x2="434" y2="426.5" stroke="#1a1a1a" stroke-width="1.6" stroke-linecap="butt"/>
<line x1="478.75" y1="422.3" x2="478.75" y2="426.5" stroke="#1a1a1a" stroke-width="1.6" stroke-linecap="butt"/>
<rect x="419.5" y="358.25" width="29.50" height="64.05" fill="#0f5283"/>
<line x1="434.25" y1="358.25" x2="434.25" y2="355" stroke="#0f5283" stroke-width="1.2" stroke-linecap="butt"/>
<line x1="426.75" y1="355" x2="441.75" y2="355" stroke="#0f5283" stroke-width="1.4" stroke-linecap="butt"/>
<rect x="464.25" y="309.25" width="29.50" height="113.05" fill="#c2132f"/>
<line x1="478.5" y1="309.25" x2="478.5" y2="300.5" stroke="#c2132f" stroke-width="1.2" stroke-linecap="butt"/>
<line x1="471.0" y1="300.5" x2="486.0" y2="300.5" stroke="#c2132f" stroke-width="1.4" stroke-linecap="butt"/>
<polyline points="432.75,348.75 432.75,276.50 478.50,276.50 478.50,293.75" fill="none" stroke="#1a1a1a" stroke-width="1.5" stroke-linejoin="miter"/>
<polygon points="447.50,269.10 448.18,270.87 450.07,270.97 448.59,272.16 449.09,273.98 447.50,272.95 445.91,273.98 446.41,272.16 444.93,270.97 446.82,270.87" fill="#000"/>
<polygon points="452.90,269.10 453.58,270.87 455.47,270.97 453.99,272.16 454.49,273.98 452.90,272.95 451.31,273.98 451.81,272.16 450.33,270.97 452.22,270.87" fill="#000"/>
<polygon points="458.20,269.10 458.88,270.87 460.77,270.97 459.29,272.16 459.79,273.98 458.20,272.95 456.61,273.98 457.11,272.16 455.63,270.97 457.52,270.87" fill="#000"/>
<polygon points="463.70,269.10 464.38,270.87 466.27,270.97 464.79,272.16 465.29,273.98 463.70,272.95 462.11,273.98 462.61,272.16 461.13,270.97 463.02,270.87" fill="#000"/>
<text x="0" y="0" transform="translate(359.4,343.6) rotate(-90)" font-size="12.0" text-anchor="middle" font-weight="normal" fill="#000" textLength="104.8" lengthAdjust="spacingAndGlyphs">Time to half maximal fibrin</text>
<text x="0" y="0" transform="translate(375.2,343.6) rotate(-90)" font-size="12.0" text-anchor="middle" font-weight="normal" fill="#000" textLength="77.8" lengthAdjust="spacingAndGlyphs">formation (minutes)</text>
<text x="0" y="0" transform="translate(412.72,207.72) rotate(-45)" font-size="10.5" text-anchor="middle" fill="#000">ZF plasma</text>
<text x="0" y="0" transform="translate(422.06,216.45) rotate(-45)" font-size="10.5" text-anchor="middle" fill="#000">+<tspan dx="1.2"> 3′−26 RNA</tspan></text>
<text x="0" y="0" transform="translate(446.87,217.72) rotate(-45)" font-size="10.5" text-anchor="middle" fill="#000">Hgfac ZF plasma</text>
<text x="0" y="0" transform="translate(456.06,226.80) rotate(-45)" font-size="10.5" text-anchor="middle" fill="#000">+<tspan dx="1.2"> 3′−26 RNA</tspan></text>
<text x="0" y="0" transform="translate(414.37,452.12) rotate(-45)" font-size="10.5" text-anchor="middle" fill="#000">ZF plasma</text>
<text x="0" y="0" transform="translate(424.80,461.86) rotate(-45)" font-size="10.5" text-anchor="middle" fill="#000">+<tspan dx="0.5"> ACTIN</tspan></text>
<text x="0" y="0" transform="translate(448.72,462.72) rotate(-45)" font-size="10.5" text-anchor="middle" fill="#000">Hgfac ZF plasma</text>
<text x="0" y="0" transform="translate(457.95,471.86) rotate(-45)" font-size="10.5" text-anchor="middle" fill="#000">+<tspan dx="0.5"> ACTIN</tspan></text>
<line x1="58.6" y1="523.5" x2="58.6" y2="689.1999999999999" stroke="#1a1a1a" stroke-width="1.7" stroke-linecap="butt"/>
<line x1="57.800000000000004" y1="688.4" x2="169.5" y2="688.4" stroke="#1a1a1a" stroke-width="1.7" stroke-linecap="butt"/>
<line x1="53.6" y1="688.4" x2="58.6" y2="688.4" stroke="#1a1a1a" stroke-width="1.6" stroke-linecap="butt"/>
<text x="50.6" y="692.1999999999999" font-size="10.6" text-anchor="end" font-weight="normal" fill="#000" textLength="14.74" lengthAdjust="spacingAndGlyphs">0.0</text>
<line x1="53.6" y1="633.9" x2="58.6" y2="633.9" stroke="#1a1a1a" stroke-width="1.6" stroke-linecap="butt"/>
<text x="50.6" y="637.6999999999999" font-size="10.6" text-anchor="end" font-weight="normal" fill="#000" textLength="14.74" lengthAdjust="spacingAndGlyphs">0.5</text>
<line x1="53.6" y1="579.2" x2="58.6" y2="579.2" stroke="#1a1a1a" stroke-width="1.6" stroke-linecap="butt"/>
<text x="50.6" y="583.0" font-size="10.6" text-anchor="end" font-weight="normal" fill="#000" textLength="14.74" lengthAdjust="spacingAndGlyphs">1.0</text>
<line x1="53.6" y1="524.3" x2="58.6" y2="524.3" stroke="#1a1a1a" stroke-width="1.6" stroke-linecap="butt"/>
<text x="50.6" y="528.0999999999999" font-size="10.6" text-anchor="end" font-weight="normal" fill="#000" textLength="14.74" lengthAdjust="spacingAndGlyphs">1.5</text>
<line x1="90.0" y1="688.4" x2="90.0" y2="692.6" stroke="#1a1a1a" stroke-width="1.6" stroke-linecap="butt"/>
<line x1="137.0" y1="688.4" x2="137.0" y2="692.6" stroke="#1a1a1a" stroke-width="1.6" stroke-linecap="butt"/>
<rect x="74.2" y="578.6" width="31.50" height="109.80" fill="#c2132f"/>
<line x1="89.6" y1="578.6" x2="89.6" y2="540.3" stroke="#c2132f" stroke-width="1.2" stroke-linecap="butt"/>
<line x1="81.6" y1="540.3" x2="97.6" y2="540.3" stroke="#c2132f" stroke-width="1.4" stroke-linecap="butt"/>
<rect x="121.4" y="676.6" width="31.70" height="11.80" fill="#0f5283"/>
<line x1="137.3" y1="676.6" x2="137.3" y2="668.8" stroke="#0f5283" stroke-width="1.2" stroke-linecap="butt"/>
<line x1="129.8" y1="668.8" x2="144.8" y2="668.8" stroke="#0f5283" stroke-width="1.4" stroke-linecap="butt"/>
<polyline points="89.40,536.00 89.40,524.40 137.20,524.40 137.20,657.30" fill="none" stroke="#1a1a1a" stroke-width="1.5" stroke-linejoin="miter"/>
<polygon points="101.40,517.40 102.08,519.17 103.97,519.27 102.49,520.46 102.99,522.28 101.40,521.25 99.81,522.28 100.31,520.46 98.83,519.27 100.72,519.17" fill="#000"/>
<polygon points="106.70,517.40 107.38,519.17 109.27,519.27 107.79,520.46 108.29,522.28 106.70,521.25 105.11,522.28 105.61,520.46 104.13,519.27 106.02,519.17" fill="#000"/>
<polygon points="112.10,517.40 112.78,519.17 114.67,519.27 113.19,520.46 113.69,522.28 112.10,521.25 110.51,522.28 111.01,520.46 109.53,519.27 111.42,519.17" fill="#000"/>
<polygon points="117.50,517.40 118.18,519.17 120.07,519.27 118.59,520.46 119.09,522.28 117.50,521.25 115.91,522.28 116.41,520.46 114.93,519.27 116.82,519.17" fill="#000"/>
<text x="0" y="0" transform="translate(25.7,606.5) rotate(-90)" font-size="12.0" text-anchor="middle" font-weight="normal" fill="#000" textLength="96.4" lengthAdjust="spacingAndGlyphs">Relative gene expression</text>
<text x="0" y="0" transform="translate(82.40,713.15) rotate(-45)" font-size="10.5" text-anchor="middle" fill="#000">WT ZF</text>
<text x="0" y="0" transform="translate(126.60,716.35) rotate(-45)" font-size="10.5" text-anchor="middle" fill="#000"><tspan font-style="italic">hgfac</tspan> ZF</text>
<line x1="220.6" y1="519.8000000000001" x2="220.6" y2="686.6999999999999" stroke="#1a1a1a" stroke-width="1.7" stroke-linecap="butt"/>
<line x1="219.79999999999998" y1="685.9" x2="329.2" y2="685.9" stroke="#1a1a1a" stroke-width="1.7" stroke-linecap="butt"/>
<line x1="215.6" y1="685.9" x2="220.6" y2="685.9" stroke="#1a1a1a" stroke-width="1.6" stroke-linecap="butt"/>
<text x="212.2" y="689.6999999999999" font-size="10.6" text-anchor="end" font-weight="normal" fill="#000" textLength="5.9" lengthAdjust="spacingAndGlyphs">0</text>
<line x1="215.6" y1="644.7" x2="220.6" y2="644.7" stroke="#1a1a1a" stroke-width="1.6" stroke-linecap="butt"/>
<text x="212.2" y="648.5" font-size="10.6" text-anchor="end" font-weight="normal" fill="#000" textLength="11.79" lengthAdjust="spacingAndGlyphs">20</text>
<line x1="215.6" y1="603.1" x2="220.6" y2="603.1" stroke="#1a1a1a" stroke-width="1.6" stroke-linecap="butt"/>
<text x="212.2" y="606.9" font-size="10.6" text-anchor="end" font-weight="normal" fill="#000" textLength="11.79" lengthAdjust="spacingAndGlyphs">40</text>
<line x1="215.6" y1="561.7" x2="220.6" y2="561.7" stroke="#1a1a1a" stroke-width="1.6" stroke-linecap="butt"/>
<text x="212.2" y="565.5" font-size="10.6" text-anchor="end" font-weight="normal" fill="#000" textLength="11.79" lengthAdjust="spacingAndGlyphs">60</text>
<line x1="215.6" y1="520.6" x2="220.6" y2="520.6" stroke="#1a1a1a" stroke-width="1.6" stroke-linecap="butt"/>
<text x="212.2" y="524.4" font-size="10.6" text-anchor="end" font-weight="normal" fill="#000" textLength="11.79" lengthAdjust="spacingAndGlyphs">80</text>
<line x1="251.6" y1="685.9" x2="251.6" y2="690.1" stroke="#1a1a1a" stroke-width="1.6" stroke-linecap="butt"/>
<line x1="298.4" y1="685.9" x2="298.4" y2="690.1" stroke="#1a1a1a" stroke-width="1.6" stroke-linecap="butt"/>
<polyline points="251.30,540.80 251.30,533.00 297.50,533.00 297.50,540.80" fill="none" stroke="#1a1a1a" stroke-width="1.5" stroke-linejoin="miter"/>
<polygon points="266.30,525.50 266.98,527.27 268.87,527.37 267.39,528.56 267.89,530.38 266.30,529.35 264.71,530.38 265.21,528.56 263.73,527.37 265.62,527.27" fill="#000"/>
<polygon points="271.70,525.50 272.38,527.27 274.27,527.37 272.79,528.56 273.29,530.38 271.70,529.35 270.11,530.38 270.61,528.56 269.13,527.37 271.02,527.27" fill="#000"/>
<polygon points="277.10,525.50 277.78,527.27 279.67,527.37 278.19,528.56 278.69,530.38 277.10,529.35 275.51,530.38 276.01,528.56 274.53,527.37 276.42,527.27" fill="#000"/>
<polygon points="282.50,525.50 283.18,527.27 285.07,527.37 283.59,528.56 284.09,530.38 282.50,529.35 280.91,530.38 281.41,528.56 279.93,527.37 281.82,527.27" fill="#000"/>
<text x="0" y="0" transform="translate(189.6,602.0) rotate(-90)" font-size="12.0" text-anchor="middle" font-weight="normal" fill="#000" textLength="108.2" lengthAdjust="spacingAndGlyphs">Time to occlusion <tspan dx="3">(seconds)</tspan></text>
<rect x="244.4" y="632.8" width="14.50" height="3.40" rx="1.7" ry="1.7" fill="#c2132f"/>
<rect x="235.7" y="638.9" width="31.40" height="3.80" rx="1.9" ry="1.9" fill="#c2132f"/>
<rect x="242.0" y="636.9" width="16.90" height="7.60" rx="1.6" ry="1.6" fill="#c2132f"/>
<circle cx="251.70" cy="644.90" r="1.75" fill="#c2132f"/>
<circle cx="255.10" cy="644.90" r="1.75" fill="#c2132f"/>
<circle cx="259.60" cy="644.90" r="1.75" fill="#c2132f"/>
<line x1="243.7" y1="640.75" x2="249.4" y2="640.75" stroke="#111" stroke-width="1.3" stroke-linecap="butt"/>
<circle cx="253.70" cy="640.75" r="0.45" fill="#333"/>
<circle cx="257.50" cy="640.75" r="0.45" fill="#333"/>
<circle cx="283.65" cy="561.90" r="1.75" fill="#0f5283"/>
<circle cx="286.50" cy="561.90" r="1.75" fill="#0f5283"/>
<circle cx="289.36" cy="561.90" r="1.75" fill="#0f5283"/>
<circle cx="292.21" cy="561.90" r="1.75" fill="#0f5283"/>
<circle cx="295.07" cy="561.90" r="1.75" fill="#0f5283"/>
<circle cx="297.92" cy="561.90" r="1.75" fill="#0f5283"/>
<circle cx="300.78" cy="561.90" r="1.75" fill="#0f5283"/>
<circle cx="303.63" cy="561.90" r="1.75" fill="#0f5283"/>
<circle cx="306.49" cy="561.90" r="1.75" fill="#0f5283"/>
<circle cx="309.34" cy="561.90" r="1.75" fill="#0f5283"/>
<circle cx="312.20" cy="561.90" r="1.75" fill="#0f5283"/>
<circle cx="293.10" cy="593.20" r="1.75" fill="#0f5283"/>
<circle cx="296.25" cy="590.60" r="1.75" fill="#0f5283"/>
<circle cx="299.70" cy="593.20" r="1.75" fill="#0f5283"/>
<circle cx="302.30" cy="593.20" r="1.75" fill="#0f5283"/>
<circle cx="305.50" cy="590.60" r="1.75" fill="#0f5283"/>
<line x1="282.4" y1="623.9" x2="313.1" y2="623.9" stroke="#111" stroke-width="1.6" stroke-linecap="butt"/>
<circle cx="293.20" cy="623.70" r="1.75" fill="#0f5283"/>
<circle cx="293.20" cy="628.40" r="1.75" fill="#0f5283"/>
<circle cx="302.70" cy="623.70" r="1.75" fill="#0f5283"/>
<circle cx="302.70" cy="628.40" r="1.75" fill="#0f5283"/>
<circle cx="296.20" cy="625.80" r="1.75" fill="#0f5283"/>
<circle cx="298.30" cy="625.80" r="1.75" fill="#0f5283"/>
<circle cx="300.10" cy="625.80" r="1.75" fill="#0f5283"/>
<circle cx="287.10" cy="640.50" r="1.75" fill="#0f5283"/>
<circle cx="287.10" cy="644.80" r="1.75" fill="#0f5283"/>
<circle cx="293.20" cy="644.80" r="1.75" fill="#0f5283"/>
<circle cx="296.20" cy="638.20" r="1.75" fill="#0f5283"/>
<circle cx="299.70" cy="640.50" r="1.75" fill="#0f5283"/>
<circle cx="296.20" cy="642.50" r="1.75" fill="#0f5283"/>
<circle cx="299.20" cy="644.80" r="1.75" fill="#0f5283"/>
<circle cx="302.70" cy="642.50" r="1.75" fill="#0f5283"/>
<circle cx="305.70" cy="644.80" r="1.75" fill="#0f5283"/>
<circle cx="309.20" cy="644.80" r="1.75" fill="#0f5283"/>
<text x="0" y="0" transform="translate(234.14,721.84) rotate(-45)" font-size="10.5" text-anchor="middle" fill="#000">PBS-injected</text>
<text x="0" y="0" transform="translate(243.60,731.90) rotate(-45)" font-size="10.5" text-anchor="middle" fill="#000">larvae</text>
<text x="0" y="0" transform="translate(277.64,725.44) rotate(-45)" font-size="10.5" text-anchor="middle" fill="#000"><tspan font-style="italic">hgfac</tspan>-injected</text>
<text x="0" y="0" transform="translate(286.90,736.10) rotate(-45)" font-size="10.5" text-anchor="middle" fill="#000">larvae</text>
<line x1="402.2" y1="519.2" x2="402.2" y2="687.4" stroke="#1a1a1a" stroke-width="1.7" stroke-linecap="butt"/>
<line x1="401.4" y1="686.6" x2="510.0" y2="686.6" stroke="#1a1a1a" stroke-width="1.7" stroke-linecap="butt"/>
<line x1="397.2" y1="686.6" x2="402.2" y2="686.6" stroke="#1a1a1a" stroke-width="1.6" stroke-linecap="butt"/>
<text x="394.0" y="690.4" font-size="10.6" text-anchor="end" font-weight="normal" fill="#000" textLength="5.9" lengthAdjust="spacingAndGlyphs">0</text>
<line x1="397.2" y1="644.9" x2="402.2" y2="644.9" stroke="#1a1a1a" stroke-width="1.6" stroke-linecap="butt"/>
<text x="394.0" y="648.6999999999999" font-size="10.6" text-anchor="end" font-weight="normal" fill="#000" textLength="11.79" lengthAdjust="spacingAndGlyphs">50</text>
<line x1="397.2" y1="603.5" x2="402.2" y2="603.5" stroke="#1a1a1a" stroke-width="1.6" stroke-linecap="butt"/>
<text x="394.0" y="607.3" font-size="10.6" text-anchor="end" font-weight="normal" fill="#000" textLength="17.69" lengthAdjust="spacingAndGlyphs">100</text>
<line x1="397.2" y1="561.7" x2="402.2" y2="561.7" stroke="#1a1a1a" stroke-width="1.6" stroke-linecap="butt"/>
<text x="394.0" y="565.5" font-size="10.6" text-anchor="end" font-weight="normal" fill="#000" textLength="17.69" lengthAdjust="spacingAndGlyphs">150</text>
<line x1="397.2" y1="520.0" x2="402.2" y2="520.0" stroke="#1a1a1a" stroke-width="1.6" stroke-linecap="butt"/>
<text x="394.0" y="523.8" font-size="10.6" text-anchor="end" font-weight="normal" fill="#000" textLength="17.69" lengthAdjust="spacingAndGlyphs">200</text>
<line x1="432.7" y1="686.6" x2="432.7" y2="690.8000000000001" stroke="#1a1a1a" stroke-width="1.6" stroke-linecap="butt"/>
<line x1="478.8" y1="686.6" x2="478.8" y2="690.8000000000001" stroke="#1a1a1a" stroke-width="1.6" stroke-linecap="butt"/>
<polyline points="432.80,531.40 432.80,523.10 478.80,523.10 478.80,531.40" fill="none" stroke="#1a1a1a" stroke-width="1.5" stroke-linejoin="miter"/>
<polygon points="448.30,515.80 448.98,517.57 450.87,517.67 449.39,518.86 449.89,520.68 448.30,519.65 446.71,520.68 447.21,518.86 445.73,517.67 447.62,517.57" fill="#000"/>
<polygon points="453.70,515.80 454.38,517.57 456.27,517.67 454.79,518.86 455.29,520.68 453.70,519.65 452.11,520.68 452.61,518.86 451.13,517.67 453.02,517.57" fill="#000"/>
<polygon points="459.10,515.80 459.78,517.57 461.67,517.67 460.19,518.86 460.69,520.68 459.10,519.65 457.51,520.68 458.01,518.86 456.53,517.67 458.42,517.57" fill="#000"/>
<polygon points="464.60,515.80 465.28,517.57 467.17,517.67 465.69,518.86 466.19,520.68 464.60,519.65 463.01,520.68 463.51,518.86 462.03,517.67 463.92,517.57" fill="#000"/>
<text x="0" y="0" transform="translate(364.6,602.0) rotate(-90)" font-size="12.0" text-anchor="middle" font-weight="normal" fill="#000" textLength="108.2" lengthAdjust="spacingAndGlyphs">Time to occlusion <tspan dx="3">(seconds)</tspan></text>
<circle cx="428.50" cy="620.00" r="1.75" fill="#c2132f"/>
<circle cx="428.50" cy="623.70" r="1.75" fill="#c2132f"/>
<circle cx="431.50" cy="620.00" r="1.75" fill="#c2132f"/>
<circle cx="431.50" cy="623.70" r="1.75" fill="#c2132f"/>
<circle cx="434.50" cy="620.00" r="1.75" fill="#c2132f"/>
<circle cx="434.50" cy="623.70" r="1.75" fill="#c2132f"/>
<circle cx="437.30" cy="620.00" r="1.75" fill="#c2132f"/>
<circle cx="437.30" cy="623.70" r="1.75" fill="#c2132f"/>
<circle cx="425.80" cy="621.80" r="1.75" fill="#c2132f"/>
<circle cx="440.20" cy="621.80" r="1.75" fill="#c2132f"/>
<line x1="417.7" y1="627.9" x2="448.6" y2="627.9" stroke="#111" stroke-width="1.6" stroke-linecap="butt"/>
<circle cx="419.00" cy="628.10" r="1.75" fill="#c2132f"/>
<circle cx="426.40" cy="627.80" r="1.75" fill="#c2132f"/>
<circle cx="431.50" cy="628.10" r="1.75" fill="#c2132f"/>
<circle cx="439.60" cy="627.80" r="1.75" fill="#c2132f"/>
<circle cx="443.30" cy="628.10" r="1.75" fill="#c2132f"/>
<circle cx="421.40" cy="632.60" r="1.75" fill="#c2132f"/>
<circle cx="423.70" cy="630.80" r="1.75" fill="#c2132f"/>
<circle cx="426.10" cy="632.80" r="1.75" fill="#c2132f"/>
<circle cx="429.50" cy="630.50" r="1.75" fill="#c2132f"/>
<circle cx="431.80" cy="632.60" r="1.75" fill="#c2132f"/>
<circle cx="434.50" cy="630.50" r="1.75" fill="#c2132f"/>
<circle cx="436.90" cy="632.60" r="1.75" fill="#c2132f"/>
<circle cx="439.90" cy="630.50" r="1.75" fill="#c2132f"/>
<circle cx="442.30" cy="631.80" r="1.75" fill="#c2132f"/>
<circle cx="444.60" cy="631.20" r="1.75" fill="#c2132f"/>
<circle cx="428.50" cy="636.50" r="1.75" fill="#c2132f"/>
<circle cx="433.50" cy="636.50" r="1.75" fill="#c2132f"/>
<circle cx="431.20" cy="634.50" r="1.75" fill="#c2132f"/>
<circle cx="436.50" cy="635.20" r="1.75" fill="#c2132f"/>
<circle cx="465.10" cy="536.80" r="1.75" fill="#0f5283"/>
<circle cx="467.22" cy="536.80" r="1.75" fill="#0f5283"/>
<circle cx="469.33" cy="536.80" r="1.75" fill="#0f5283"/>
<circle cx="471.45" cy="536.80" r="1.75" fill="#0f5283"/>
<circle cx="473.56" cy="536.80" r="1.75" fill="#0f5283"/>
<circle cx="475.68" cy="536.80" r="1.75" fill="#0f5283"/>
<circle cx="477.79" cy="536.80" r="1.75" fill="#0f5283"/>
<circle cx="479.91" cy="536.80" r="1.75" fill="#0f5283"/>
<circle cx="482.02" cy="536.80" r="1.75" fill="#0f5283"/>
<circle cx="484.14" cy="536.80" r="1.75" fill="#0f5283"/>
<circle cx="486.25" cy="536.80" r="1.75" fill="#0f5283"/>
<circle cx="488.37" cy="536.80" r="1.75" fill="#0f5283"/>
<circle cx="490.48" cy="536.80" r="1.75" fill="#0f5283"/>
<circle cx="492.60" cy="536.80" r="1.75" fill="#0f5283"/>
<circle cx="477.20" cy="570.00" r="1.75" fill="#0f5283"/>
<circle cx="480.00" cy="570.00" r="1.75" fill="#0f5283"/>
<line x1="463.5" y1="586.6" x2="494.3" y2="586.6" stroke="#111" stroke-width="1.6" stroke-linecap="butt"/>
<circle cx="477.20" cy="586.60" r="1.75" fill="#0f5283"/>
<circle cx="479.70" cy="586.60" r="1.75" fill="#0f5283"/>
<circle cx="476.40" cy="603.20" r="1.75" fill="#0f5283"/>
<circle cx="479.20" cy="603.20" r="1.75" fill="#0f5283"/>
<circle cx="481.30" cy="602.60" r="1.75" fill="#0f5283"/>
<circle cx="478.80" cy="621.50" r="1.75" fill="#0f5283"/>
<circle cx="473.90" cy="624.10" r="1.75" fill="#0f5283"/>
<circle cx="476.50" cy="624.10" r="1.75" fill="#0f5283"/>
<circle cx="481.20" cy="624.10" r="1.75" fill="#0f5283"/>
<circle cx="483.75" cy="624.10" r="1.75" fill="#0f5283"/>
<circle cx="473.90" cy="628.40" r="1.75" fill="#0f5283"/>
<circle cx="478.60" cy="629.90" r="1.75" fill="#0f5283"/>
<circle cx="481.20" cy="628.40" r="1.75" fill="#0f5283"/>
<circle cx="483.75" cy="630.20" r="1.75" fill="#0f5283"/>
<circle cx="476.25" cy="631.90" r="1.75" fill="#0f5283"/>
<circle cx="480.90" cy="632.50" r="1.75" fill="#0f5283"/>
<circle cx="476.25" cy="635.40" r="1.75" fill="#0f5283"/>
<text x="0" y="0" transform="translate(415.64,722.59) rotate(-45)" font-size="10.5" text-anchor="middle" fill="#000">PBS-injected</text>
<text x="0" y="0" transform="translate(425.10,731.90) rotate(-45)" font-size="10.5" text-anchor="middle" fill="#000">larvae</text>
<text x="0" y="0" transform="translate(458.84,725.44) rotate(-45)" font-size="10.5" text-anchor="middle" fill="#000"><tspan font-style="italic">hgfac</tspan>-injected</text>
<text x="0" y="0" transform="translate(468.40,736.90) rotate(-45)" font-size="10.5" text-anchor="middle" fill="#000">larvae</text>
</svg>
</body></html>
